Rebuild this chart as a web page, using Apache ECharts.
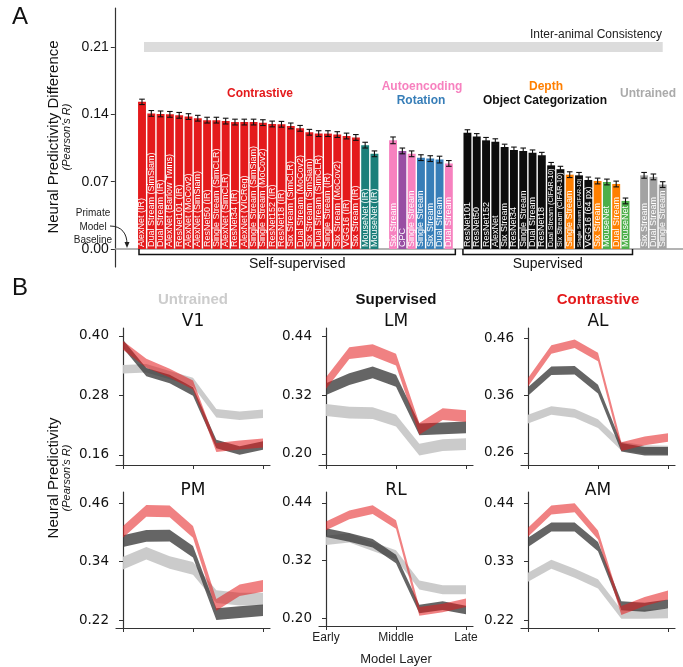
<!DOCTYPE html>
<html><head><meta charset="utf-8">
<script src="https://cdn.jsdelivr.net/npm/echarts@6/dist/echarts.min.js"></script>
<style>html,body{margin:0;padding:0;background:#fff}#c{width:683px;height:667px}</style>
</head><body><div id="c"></div>
<script>
// ---------------- Panel A data ----------------
const contrastiveNames = ['AlexNet (IR)','Dual Stream (SimSiam)','Dual Stream (IR)','AlexNet (Barlow Twins)','ResNet101 (IR)','AlexNet (MoCov2)','AlexNet (SimSiam)','ResNet50 (IR)','Single Stream (SimCLR)','AlexNet (SimCLR)','ResNet34 (IR)','AlexNet (VICReg)','Single Stream (SimSiam)','Single Stream (MoCov2)','ResNet152 (IR)','ResNet18 (IR)','Six Stream (SimCLR)','Dual Stream (MoCov2)','Six Stream (SimSiam)','Dual Stream (SimCLR)','Single Stream (IR)','Six Stream (MoCov2)','VGG16 (IR)','Six Stream (IR)'];
const contrastiveValues = [0.153,0.141,0.1405,0.140,0.139,0.1377,0.136,0.134,0.134,0.133,0.132,0.132,0.132,0.1314,0.130,0.1297,0.128,0.1255,0.1214,0.120,0.120,0.119,0.1175,0.116];
const contrastiveErrors = [0.0028,0.003,0.003,0.003,0.003,0.003,0.003,0.003,0.003,0.003,0.003,0.003,0.003,0.003,0.003,0.003,0.003,0.003,0.003,0.003,0.003,0.003,0.003,0.003];

const mouseNetIRNames = ['MouseNet (IR)','MouseNet (IR)'];
const mouseNetIRValues = [0.108,0.099];
const mouseNetIRErrors = [0.003,0.003];

const otherSSNames = ['Six Stream','CPC','Single Stream','Single Stream','Six Stream','Dual Stream','Dual Stream'];
const otherSSValues = [0.113,0.102,0.099,0.095,0.094,0.093,0.089];
const otherSSErrors = [0.0035,0.003,0.003,0.003,0.003,0.0035,0.003];
const otherSSGroups = ['auto','cpc','auto','rot','rot','rot','auto'];

const supNames = ['ResNet101','ResNet50','ResNet152','AlexNet','Six Stream','ResNet34','Single Stream','Dual Stream','ResNet18','Dual Stream (CIFAR-10)','Six Stream (CIFAR-10)','Single Stream','Single Stream (CIFAR-10)','VGG16 (64 px)','Six Stream','MouseNet','Dual Stream','MouseNet'];
const supValues = [0.121,0.117,0.113,0.1116,0.106,0.103,0.102,0.100,0.0975,0.087,0.083,0.0773,0.0766,0.0718,0.0707,0.0697,0.0676,0.050];
const supErrors = [0.003,0.003,0.003,0.003,0.003,0.003,0.003,0.003,0.003,0.003,0.003,0.003,0.003,0.003,0.003,0.003,0.003,0.003];
const supGroups = ['obj','obj','obj','obj','obj','obj','obj','obj','obj','obj','obj','depth','obj','obj','depth','green','depth','green'];

const untrainedNames = ['Six Stream','Dual Stream','Single Stream'];
const untrainedValues = [0.0766,0.075,0.067];
const untrainedErrors = [0.003,0.003,0.003];

const interAnimalConsistency = 0.21;
const yTicksA = [0.00,0.07,0.14,0.21];

// ---------------- Panel B data ----------------
const layerTicks = ['Early','Middle','Late'];
const areaNames = ['V1','LM','AL','PM','RL','AM'];
const v1Untrained = [0.333,0.335,0.321,0.307,0.244,0.239,0.243];
const v1Supervised = [0.384,0.327,0.313,0.288,0.182,0.169,0.179];
const v1Contrastive = [0.381,0.345,0.325,0.301,0.175,0.180,0.184];
const v1Half = [0.0085,0.0085,0.009];
const lmUntrained = [0.2895,0.284,0.283,0.268,0.209,0.218,0.220];
const lmSupervised = [0.332,0.3525,0.366,0.349,0.250,0.252,0.254];
const lmContrastive = [0.344,0.405,0.411,0.392,0.251,0.281,0.277];
const lmHalf = [0.012,0.012,0.012];
const alUntrained = [0.319,0.334,0.329,0.311,0.272,0.266,0.265];
const alSupervised = [0.367,0.403,0.404,0.371,0.270,0.263,0.263];
const alContrastive = [0.383,0.440,0.450,0.427,0.271,0.281,0.287];
const alHalf = [0.0075,0.0075,0.0075];
const pmUntrained = [0.3366,0.357,0.338,0.326,0.268,0.263,0.263];
const pmSupervised = [0.382,0.3925,0.393,0.360,0.232,0.236,0.240];
const pmContrastive = [0.401,0.444,0.443,0.401,0.251,0.281,0.290];
const pmHalf = [0.013,0.012,0.012];
const rlUntrained = [0.362,0.367,0.349,0.332,0.269,0.259,0.259];
const rlSupervised = [0.378,0.368,0.356,0.323,0.219,0.226,0.217];
const rlContrastive = [0.392,0.415,0.426,0.395,0.214,0.221,0.232];
const rlHalf = [0.0095,0.009,0.009];
const amUntrained = [0.3005,0.325,0.308,0.288,0.231,0.231,0.232];
const amSupervised = [0.366,0.395,0.395,0.358,0.247,0.244,0.250];
const amContrastive = [0.385,0.427,0.431,0.380,0.238,0.255,0.267];
const amHalf = [0.0085,0.0085,0.0085];
const yTicksB = [[0.16,0.28,0.40],[0.20,0.32,0.44],[0.26,0.36,0.46],[0.22,0.34,0.46],[0.20,0.32,0.44],[0.22,0.33,0.44]];

// ---------------- styling ----------------
const SANS = '"Liberation Sans", Arial, Helvetica, sans-serif';
const DJ = '"DejaVu Sans", sans-serif';
const colors = {
  contrastive:'#e41a1c', mousenet:'#1b7f7a', auto:'#f781bf', cpc:'#984ea3', rot:'#377eb8',
  obj:'#0d0d0d', depth:'#ff7f00', green:'#4daf4a', untrained:'#a3a3a3'
};

// build slots
const slots = [];
function pushGroup(names, vals, errs, groups){
  names.forEach((n,i)=>slots.push({name:n, value:vals[i], err:errs[i], group: Array.isArray(groups)?groups[i]:groups}));
}
function gap(){ slots.push({name:'', value:null, err:0, group:null}); }
pushGroup(contrastiveNames, contrastiveValues, contrastiveErrors, 'contrastive');
pushGroup(mouseNetIRNames, mouseNetIRValues, mouseNetIRErrors, 'mousenet');
gap();
const ssOtherStart = slots.length;
pushGroup(otherSSNames, otherSSValues, otherSSErrors, otherSSGroups);
gap();
const supStart = slots.length;
pushGroup(supNames, supValues, supErrors, supGroups);
gap();
pushGroup(untrainedNames, untrainedValues, untrainedErrors, 'untrained');
const supEnd = supStart + supNames.length - 1;
const ssEnd = ssOtherStart + otherSSNames.length - 1;

const yMinA = -0.0187, yMaxA = 0.2506, gridAH = 259;
const pxPerUnit = gridAH/(yMaxA-yMinA);
const mctx = document.createElement('canvas').getContext('2d');
function fitSize(text, availPx){
  mctx.font = '9px ' + SANS;
  const w = mctx.measureText(text).width;
  return Math.max(5, Math.min(9, 9*availPx/w));
}

const barData = slots.map((s)=>{
  if (s.value == null) return {value:null};
  return {
    value: s.value,
    itemStyle:{color: colors[s.group]},
    label:{fontSize: fitSize(s.name, s.value*pxPerUnit - 5)}
  };
});
const errData = [];
slots.forEach((s,i)=>{ if (s.value!=null) errData.push([i, s.value, s.err]); });

const series = [];
const grids = [{left:137.35, top:8, width:530, height:gridAH}];
const xAxes = [{
  gridIndex:0, type:'category', data: slots.map((s,i)=>String(i)),
  axisLine:{show:false}, axisTick:{show:false}, axisLabel:{show:false}, splitLine:{show:false}
}];
const yAxes = [{
  gridIndex:0, type:'value', min:yMinA, max:yMaxA, offset:22.5,
  splitLine:{show:false},
  axisLine:{show:true, lineStyle:{color:'#333', width:1.2}},
  axisTick:{show:true, length:4, customValues:yTicksA, lineStyle:{color:'#333'}},
  axisLabel:{customValues:yTicksA, formatter:v=>v.toFixed(2), fontSize:14, color:'#111', fontFamily:SANS, margin:6}
}];
// inter-animal consistency band (drawn through the axes)
series.push({
  type:'custom', xAxisIndex:0, yAxisIndex:0, data:[[0, slots.length-1, interAnimalConsistency]], z:1, clip:false,
  renderItem:(params, api)=>{
    const a = api.coord([api.value(0), api.value(2)]);
    const b = api.coord([api.value(1), api.value(2)]);
    return {type:'rect', shape:{x:a[0]+2, y:a[1]-5, width:b[0]-a[0]-2, height:10}, style:{fill:'#dcdcdc'}};
  }
});
series.push({
  type:'bar', xAxisIndex:0, yAxisIndex:0, data:barData, barWidth:7.9, z:3,
  label:{show:true, position:'insideBottom', distance:2, rotate:90, align:'left', verticalAlign:'middle',
    color:'#fff', fontFamily:SANS, formatter:p=>slots[p.dataIndex].name}
});
series.push({
  type:'custom', xAxisIndex:0, yAxisIndex:0, data:errData, z:4, clip:false,
  renderItem:(params, api)=>{
    const x = api.value(0), v = api.value(1), e = api.value(2);
    const top = api.coord([x, v+e]), bot = api.coord([x, v-e]);
    const c = 2.8;
    return {type:'group', children:[
      {type:'line', shape:{x1:top[0],y1:top[1],x2:bot[0],y2:bot[1]}, style:{stroke:'#111', lineWidth:1.1}},
      {type:'line', shape:{x1:top[0]-c,y1:top[1],x2:top[0]+c,y2:top[1]}, style:{stroke:'#111', lineWidth:1.1}},
      {type:'line', shape:{x1:bot[0]-c,y1:bot[1],x2:bot[0]+c,y2:bot[1]}, style:{stroke:'#111', lineWidth:1.1}}
    ]};
  }
});

// ---------------- Panel B ----------------
const areaData = [
  [v1Untrained,v1Supervised,v1Contrastive,v1Half],
  [lmUntrained,lmSupervised,lmContrastive,lmHalf],
  [alUntrained,alSupervised,alContrastive,alHalf],
  [pmUntrained,pmSupervised,pmContrastive,pmHalf],
  [rlUntrained,rlSupervised,rlContrastive,rlHalf],
  [amUntrained,amSupervised,amContrastive,amHalf]
];
const yRangesB = [[0.1398,0.416],[0.1776,0.4563],[0.2391,0.4774],[0.2036,0.4826],[0.1836,0.4626],[0.2050,0.4607]];
const colLefts = [116,319,521];
const rowTops = [328,492], rowHeights = [137,136];
const bandStyles = [
  {fill:'#c8c8c8', opacity:0.95},
  {fill:'#3a3a3a', opacity:0.78},
  {fill:'#e41a1c', opacity:0.55}
];
const graphicsB = [];
areaNames.forEach((name, k)=>{
  const gi = k+1, col = k%3, row = Math.floor(k/3);
  grids.push({left:colLefts[col], top:rowTops[row], width:154, height:rowHeights[row]});
  const isRL = name==='RL';
  xAxes.push({
    gridIndex:gi, type:'value', min:-0.3, max:6.3,
    splitLine:{show:false},
    axisLine:{show:true, onZero:false, lineStyle:{color:'#333', width:1.2}},
    axisTick:{show:true, length:4, customValues:[0,3,6], lineStyle:{color:'#333'}},
    axisLabel:{show:isRL, customValues:[0,3,6], formatter:v=>layerTicks[v/3], fontSize:12, color:'#222', fontFamily:SANS, margin:6},
    name: isRL ? 'Model Layer' : '', nameLocation:'middle', nameGap:27,
    nameTextStyle:{fontSize:13, color:'#222', fontFamily:SANS}
  });
  yAxes.push({
    gridIndex:gi, type:'value', min:yRangesB[k][0], max:yRangesB[k][1],
    splitLine:{show:false},
    axisLine:{show:true, lineStyle:{color:'#333', width:1.2}},
    axisTick:{show:true, length:4, customValues:yTicksB[k], lineStyle:{color:'#333'}},
    axisLabel:{customValues:yTicksB[k], formatter:v=>v.toFixed(2), fontSize:13.5, color:'#111', fontFamily:DJ, margin:7}
  });
  const d = areaData[k];
  for (let g=0; g<3; g++){
    const mean = d[g], half = d[3][g];
    const rows = mean.map((m,i)=>[i, m-half, m+half]);
    const st = bandStyles[g];
    series.push({
      type:'custom', xAxisIndex:gi, yAxisIndex:gi, data:rows, clip:false, z:2+g,
      encode:{x:0, y:[1,2]},
      renderItem:(params, api)=>{
        if (params.dataIndex !== 0) return null;
        const up = rows.map(r=>api.coord([r[0], r[2]]));
        const lo = rows.map(r=>api.coord([r[0], r[1]])).reverse();
        return {type:'polygon', shape:{points: up.concat(lo)}, style:{fill:st.fill, opacity:st.opacity}};
      }
    });
  }
  const cx = colLefts[col] + 77;
  graphicsB.push({type:'text', x:cx, y: row===0 ? 322 : 491,
    style:{text:name, font:'17px '+DJ, fill:'#111', textAlign:'center', textVerticalAlign:'middle', align:'center', verticalAlign:'middle'}});
});

function txt(x, y, text, font, fill, align, rot){
  const o = {type:'text', x, y, z:10,
    style:{text, font, fill, textAlign:align||'center', textVerticalAlign:'middle', align:align||'center', verticalAlign:'middle'}};
  if (rot) o.rotation = rot;
  return o;
}
const staticGraphics = [
  txt(20, 17, 'A', '24px '+SANS, '#111'),
  txt(20, 288, 'B', '24px '+SANS, '#111'),
  txt(54, 137, 'Neural Predictivity Difference', '15px '+SANS, '#111', 'center', Math.PI/2),
  txt(67, 137, "(Pearson's R)", 'italic 11px '+SANS, '#111', 'center', Math.PI/2),
  txt(54, 478, 'Neural Predictivity', '15px '+SANS, '#111', 'center', Math.PI/2),
  txt(67, 478, "(Pearson's R)", 'italic 11px '+SANS, '#111', 'center', Math.PI/2),
  txt(93, 213, 'Primate', '10px '+SANS, '#222'),
  txt(93, 227, 'Model', '10px '+SANS, '#222'),
  txt(93, 240, 'Baseline', '10px '+SANS, '#222'),
  {type:'bezierCurve', z:10, shape:{x1:110,y1:226,cpx1:122,cpy1:226,cpx2:127,cpy2:234,x2:127,y2:244}, style:{stroke:'#222', lineWidth:1, fill:null}},
  {type:'polygon', z:10, shape:{points:[[124.5,242],[129.5,242],[127,248]]}, style:{fill:'#222'}},
  txt(260, 94, 'Contrastive', 'bold 12px '+SANS, '#e41a1c'),
  txt(422, 87, 'Autoencoding', 'bold 12px '+SANS, '#f781bf'),
  txt(421, 101, 'Rotation', 'bold 12px '+SANS, '#377eb8'),
  txt(546, 87, 'Depth', 'bold 12px '+SANS, '#ff7f00'),
  txt(545, 101, 'Object Categorization', 'bold 12px '+SANS, '#111'),
  txt(648, 94, 'Untrained', 'bold 12px '+SANS, '#aaaaaa'),
  txt(662, 35, 'Inter-animal Consistency', '12px '+SANS, '#222', 'right'),
  txt(193, 300, 'Untrained', 'bold 15px '+SANS, '#cccccc'),
  txt(396, 300, 'Supervised', 'bold 15px '+SANS, '#111'),
  txt(598, 300, 'Contrastive', 'bold 15px '+SANS, '#e41a1c')
];

const chart = echarts.init(document.getElementById('c'), null, {renderer:'canvas'});
chart.setOption({
  animation:false, backgroundColor:'#fff',
  grid:grids, xAxis:xAxes, yAxis:yAxes, series:series,
  graphic: staticGraphics.concat(graphicsB)
});

// brackets and baseline positioned through the axes
const px = i => chart.convertToPixel({xAxisIndex:0}, String(i));
const zeroY = chart.convertToPixel({yAxisIndex:0}, 0);
const b1 = [px(0)-3, px(ssEnd)+6.5];
const b2 = [px(supStart)-4.5, px(supEnd)+7];
const yb = zeroY + 5.5;
const dyn = [
  {type:'line', z:1, shape:{x1:115, y1:zeroY, x2:683, y2:zeroY}, style:{stroke:'#9a9a9a', lineWidth:1.5}},
  {type:'polyline', z:10, shape:{points:[[b1[0],zeroY],[b1[0],yb],[b1[1],yb],[b1[1],zeroY]]}, style:{stroke:'#111', lineWidth:1.5, fill:null}},
  {type:'polyline', z:10, shape:{points:[[b2[0],zeroY],[b2[0],yb],[b2[1],yb],[b2[1],zeroY]]}, style:{stroke:'#111', lineWidth:1.5, fill:null}},
  txt((b1[0]+b1[1])/2, zeroY+15, 'Self-supervised', '14px '+SANS, '#111'),
  txt((b2[0]+b2[1])/2, zeroY+15, 'Supervised', '14px '+SANS, '#111')
];
chart.setOption({graphic: staticGraphics.concat(graphicsB, dyn)});
</script>
</body></html>
